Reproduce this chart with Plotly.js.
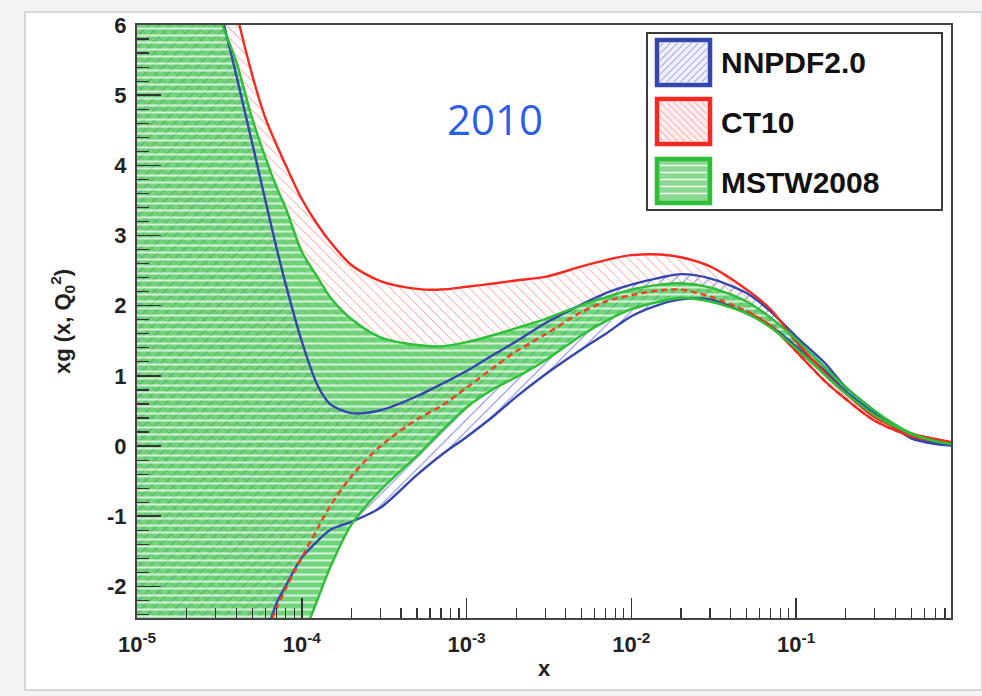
<!DOCTYPE html>
<html>
<head>
<meta charset="utf-8">
<script src="https://cdn.plot.ly/plotly-3.0.1.min.js"></script>
<style>html,body{margin:0;padding:0;background:#f2f4f4;}#chart{width:982px;height:696px;}</style>
</head>
<body>
<div id="chart"></div>
<script>
// ---- data ----
const x = [1e-5, 2e-5, 3e-5, 4e-5, 5e-5, 6e-5, 7e-5, 8e-5, 1e-4, 1.25e-4, 1.5e-4, 2e-4, 3e-4, 5e-4, 7e-4,
           1e-3, 1.5e-3, 2e-3, 3e-3, 5e-3, 7e-3, 0.01, 0.015, 0.02, 0.03, 0.05, 0.07, 0.1, 0.15, 0.2, 0.3, 0.5, 0.7, 0.87];

const nnpdfHi = [16, 10, 6.57, 5.29, 4.32, 3.51, 2.84, 2.30, 1.49, 0.86, 0.59, 0.47, 0.51, 0.71, 0.88,
                 1.07, 1.32, 1.49, 1.75, 2.02, 2.18, 2.30, 2.40, 2.45, 2.39, 2.18, 1.92, 1.56, 1.18, 0.84, 0.50, 0.13, 0.04, 0.01];
const nnpdfLo = [-10, -7, -5.2, -4.0, -3.1, -2.70, -2.25, -1.99, -1.59, -1.35, -1.19, -1.08, -0.88, -0.41, -0.13,
                 0.13, 0.45, 0.70, 1.02, 1.38, 1.60, 1.85, 2.02, 2.09, 2.09, 1.89, 1.71, 1.42, 1.07, 0.78, 0.46, 0.11, 0.03, 0.01];

const ct10Hi = [14, 10, 7.6, 6.2, 5.29, 4.68, 4.30, 4.00, 3.52, 3.15, 2.90, 2.58, 2.35, 2.24, 2.23,
                2.27, 2.32, 2.36, 2.41, 2.56, 2.65, 2.72, 2.73, 2.69, 2.56, 2.23, 1.95, 1.49, 1.04, 0.75, 0.41, 0.18, 0.10, 0.06];
const ct10Lo = [-9, -5.8, -4.5, -3.7, -3.13, -2.70, -2.32, -2.03, -1.59, -1.17, -0.84, -0.43, 0.0, 0.38, 0.57,
                0.83, 1.14, 1.35, 1.59, 1.91, 2.06, 2.15, 2.22, 2.23, 2.13, 1.92, 1.71, 1.35, 0.92, 0.67, 0.36, 0.14, 0.07, 0.04];

const mstwHi = [13, 8.5, 6.29, 5.48, 4.67, 4.12, 3.70, 3.39, 2.77, 2.40, 2.11, 1.81, 1.55, 1.44, 1.42,
                1.48, 1.59, 1.68, 1.81, 2.01, 2.12, 2.23, 2.30, 2.32, 2.26, 2.06, 1.83, 1.52, 1.12, 0.84, 0.50, 0.18, 0.07, 0.03];
const mstwLo = [-14, -9.5, -7.2, -5.9, -5.05, -4.41, -3.91, -3.49, -2.77, -2.18, -1.71, -1.12, -0.63, -0.14, 0.21,
                0.55, 0.83, 0.98, 1.22, 1.58, 1.78, 1.95, 2.06, 2.11, 2.06, 1.89, 1.69, 1.39, 1.01, 0.75, 0.44, 0.17, 0.07, 0.03];

const seriesNames = ['NNPDF2.0', 'CT10', 'MSTW2008'];
const xTickVals = [1e-5, 1e-4, 1e-3, 1e-2, 1e-1];
const xTickText = ['10<sup>-5</sup>', '10<sup>-4</sup>', '10<sup>-3</sup>', '10<sup>-2</sup>', '10<sup>-1</sup>'];
const yTickVals = [-2, -1, 0, 1, 2, 3, 4, 5, 6];
const yTickText = ['-2', '-1', '0', '1', '2', '3', '4', '5', '6'];

// ---- styles ----
const BLUE = '#3546ad', RED = '#f5291f', GREEN = '#2dbf37';
const sm = 0.8;
const tailStart = 25; // CT10 lower edge leaves the MSTW band here

function bandEdge(y) {
  return {x: x, y: y, type: 'scatter', mode: 'lines', line: {width: 0, shape: 'spline', smoothing: sm},
          showlegend: false, hoverinfo: 'skip'};
}
function bandFill(y, pattern) {
  return {x: x, y: y, type: 'scatter', mode: 'lines', line: {width: 0, shape: 'spline', smoothing: sm},
          fill: 'tonexty', fillcolor: 'rgba(0,0,0,0)', fillpattern: pattern, showlegend: false, hoverinfo: 'skip'};
}
function edgeLine(xs, y, color, dash) {
  return {x: xs, y: y, type: 'scatter', mode: 'lines',
          line: {width: 2.4, color: color, shape: 'spline', smoothing: sm, dash: dash || 'solid'},
          showlegend: false, hoverinfo: 'skip'};
}

const traces = [
  bandEdge(nnpdfLo),
  bandFill(nnpdfHi, {shape: '/', fgcolor: 'rgba(110,115,215,0.85)', bgcolor: 'rgba(0,0,0,0)', size: 8, solidity: 0.14}),
  bandEdge(ct10Lo),
  bandFill(ct10Hi, {shape: '\\', fgcolor: 'rgba(255,130,130,0.85)', bgcolor: 'rgba(0,0,0,0)', size: 7, solidity: 0.14}),
  bandEdge(mstwLo),
  bandFill(mstwHi, {shape: '-', fgcolor: 'rgba(255,255,255,0.7)', bgcolor: 'rgba(45,192,60,0.68)', size: 7, solidity: 0.3}),
  edgeLine(x, nnpdfLo, BLUE),
  edgeLine(x, nnpdfHi, BLUE),
  edgeLine(x, ct10Hi, RED),
  edgeLine(x, ct10Lo, '#f0401e', '6px,4px'),
  edgeLine(x.slice(tailStart), ct10Lo.slice(tailStart), RED),
  edgeLine(x, mstwLo, GREEN),
  edgeLine(x, mstwHi, GREEN)
];

// ---- layout helpers (pixel -> paper) ----
const L = 137, R = 951, T = 25, B = 618;
function px(v) { return (v - L) / (R - L); }
function py(v) { return (B - v) / (B - T); }
function rect(x0, y0, x1, y1, o) {
  return Object.assign({type: 'rect', xref: 'paper', yref: 'paper', x0: px(x0), x1: px(x1), y0: py(y1), y1: py(y0)}, o);
}
function seg(xa, ya, xb, yb, color, w) {
  return {type: 'line', xref: 'paper', yref: 'paper', x0: px(xa), y0: py(ya), x1: px(xb), y1: py(yb),
          line: {color: color, width: w}};
}
function hatch(x0, y0, x1, y1, kind, step, color) {
  const out = [];
  if (kind === '/') {
    for (let c = x0 + y0 + step / 2; c < x1 + y1; c += step) {
      const xa = Math.max(x0, c - y1), xb = Math.min(x1, c - y0);
      if (xa < xb) out.push(seg(xa, c - xa, xb, c - xb, color, 1));
    }
  } else if (kind === '\\') {
    for (let c = x0 - y1 + step / 2; c < x1 - y0; c += step) {
      const xa = Math.max(x0, c + y0), xb = Math.min(x1, c + y1);
      if (xa < xb) out.push(seg(xa, xa - c, xb, xb - c, color, 1));
    }
  } else {
    for (let yy = y0 + step / 2; yy < y1; yy += step) out.push(seg(x0, yy, x1, yy, color, 1.5));
  }
  return out;
}

const shapes = [
  rect(25, 12, 982, 690, {layer: 'below', fillcolor: '#ffffff', line: {color: '#d3d8d8', width: 2}}),
  rect(647, 33, 942, 210, {fillcolor: '#ffffff', line: {color: '#3a3a3a', width: 2}})
];
const sw = [[40, 85, BLUE, 'rgba(140,145,225,0.15)', '/', 'rgba(110,115,215,0.8)'],
            [99, 144, RED, 'rgba(255,150,150,0.15)', '\\', 'rgba(255,130,130,0.8)'],
            [159, 203, GREEN, 'rgba(60,190,70,0.6)', '-', 'rgba(255,255,255,0.9)']];
sw.forEach(s => {
  shapes.push(rect(657, s[0], 710, s[1], {fillcolor: s[3], line: {width: 0}}));
  hatch(660, s[0] + 3, 707, s[1] - 3, s[4], 7, s[5]).forEach(h => shapes.push(h));
  shapes.push(rect(657, s[0], 710, s[1], {fillcolor: 'rgba(0,0,0,0)', line: {color: s[2], width: 4.5}}));
});

const legFont = {family: 'Liberation Sans, Arial, sans-serif', size: 30, color: '#111', weight: 'bold'};
const annotations = [
  {xref: 'paper', yref: 'paper', x: px(719), y: py(63), xanchor: 'left', yanchor: 'middle', text: seriesNames[0], showarrow: false, font: legFont},
  {xref: 'paper', yref: 'paper', x: px(719), y: py(122), xanchor: 'left', yanchor: 'middle', text: seriesNames[1], showarrow: false, font: legFont},
  {xref: 'paper', yref: 'paper', x: px(719), y: py(182), xanchor: 'left', yanchor: 'middle', text: seriesNames[2], showarrow: false, font: legFont},
  {xref: 'paper', yref: 'paper', x: px(495), y: py(118), xanchor: 'center', yanchor: 'middle', text: '2010', showarrow: false,
   font: {family: 'Open Sans, sans-serif', size: 42, color: '#2c5de8'}}
];

const minorX = [];
for (let e = -5; e <= -1; e++) for (let d = 2; d <= 9; d++) minorX.push(d * Math.pow(10, e));
const minorY = [];
for (let v = -2.4; v <= 6.001; v += 0.2) minorY.push(Math.round(v * 10) / 10);

const tickFont = {family: 'Liberation Sans, Arial, sans-serif', size: 22, color: '#222', weight: 'bold'};

const layout = {
  width: 982, height: 696,
  margin: {l: 137, r: 31, t: 25, b: 78},
  paper_bgcolor: '#f2f4f4',
  plot_bgcolor: '#ffffff',
  showlegend: false,
  xaxis: {
    type: 'log', range: [-5, -0.06], tickmode: 'array', tickvals: xTickVals, ticktext: xTickText,
    ticks: 'inside', ticklen: 20, tickwidth: 1.5, tickcolor: '#333',
    minor: {tickmode: 'array', tickvals: minorX, ticks: 'inside', ticklen: 10, tickwidth: 1.2, tickcolor: '#333', showgrid: false},
    showline: true, mirror: true, linecolor: '#444', linewidth: 2,
    showgrid: false, zeroline: false, tickfont: tickFont, ticklabelstandoff: 6,
    title: {text: 'x', font: {family: 'Liberation Sans, Arial, sans-serif', size: 22, color: '#222', weight: 'bold'}, standoff: 4}
  },
  yaxis: {
    range: [-2.45, 6], tickmode: 'array', tickvals: yTickVals, ticktext: yTickText,
    ticks: 'inside', ticklen: 24, tickwidth: 1.5, tickcolor: '#333',
    minor: {tickmode: 'array', tickvals: minorY, ticks: 'inside', ticklen: 12, tickwidth: 1.2, tickcolor: '#333', showgrid: false},
    showline: true, mirror: true, linecolor: '#444', linewidth: 2,
    showgrid: false, zeroline: false, tickfont: tickFont, ticklabelstandoff: 4,
    title: {text: 'xg (x, Q<sub>0</sub><sup>2</sup>)', font: {family: 'Liberation Sans, Arial, sans-serif', size: 22, color: '#222', weight: 'bold'}, standoff: 30}
  },
  shapes: shapes,
  annotations: annotations
};

Plotly.newPlot('chart', traces, layout, {displayModeBar: false, staticPlot: true});
</script>
</body>
</html>
